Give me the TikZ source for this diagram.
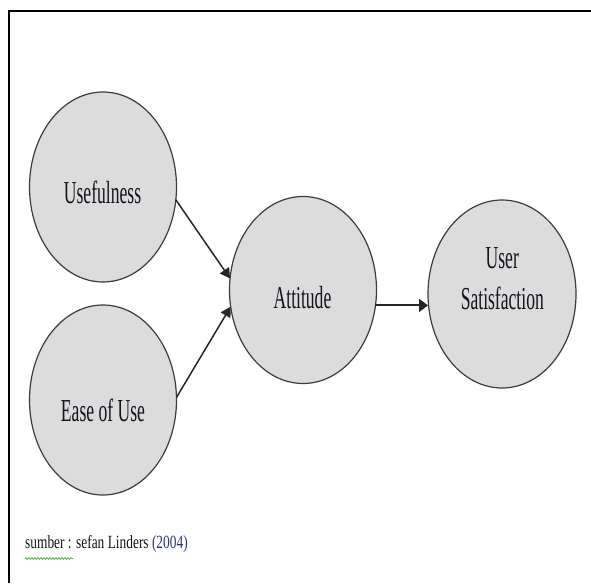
\documentclass[tikz,border=0pt]{standalone}
\usepackage{graphicx}
\usepackage{fontspec}
\newfontfamily\tnr{Liberation Serif}
\usetikzlibrary{shapes.geometric,arrows.meta,decorations.pathmorphing}
\definecolor{bubblefill}{RGB}{220,220,220}
\definecolor{bubbleline}{RGB}{60,60,60}
\definecolor{inkdark}{RGB}{20,20,30}
\definecolor{yearblue}{RGB}{40,50,120}
\definecolor{squiggle}{RGB}{90,170,80}
\tikzset{
  bubble/.style={ellipse, draw=bubbleline, line width=1.2pt, fill=bubblefill,
    inner sep=0pt, outer sep=0pt, minimum width=147pt},
  lbl/.style={anchor=base, inner sep=0pt, text=inkdark, font=\tnr\fontsize{32}{41}\selectfont},
  conn/.style={draw=black!85, line width=1.5pt, -{Triangle[length=10pt,width=11pt]}}
}
\newcommand{\narrow}[1]{\scalebox{0.55}[1]{#1}}
\begin{document}
\begin{tikzpicture}[x=1pt,y=-1pt]
\useasboundingbox (0,0) rectangle (591,583);
% frame
\draw[line width=1.6pt, black] (9,583) -- (9,11) -- (591,11);
% bubbles
\node[bubble, minimum height=190pt] (use) at (103,187) {};
\node[bubble, minimum height=190pt] (ease) at (103,400) {};
\node[bubble, minimum height=187pt] (att) at (303,290) {};
\node[bubble, minimum height=188pt, minimum width=148pt] (us) at (502,294) {};
% labels
\node[lbl] (tuse) at (102.5,203) {\narrow{Usefulness}};
\node[lbl] (tease) at (103,421.5) {\narrow{Ease of Use}};
\node[lbl] (tatt) at (302.5,308) {\narrow{Attitude}};
\node[lbl] (tus1) at (502.3,268) {\narrow{User}};
\node[lbl] (tus2) at (502.3,309) {\narrow{Satisfaction}};
% connectors
\draw[conn] (use.-10) -- (att.171);
\draw[conn] (ease.2.6) -- (att.-167.4);
\draw[conn, line width=2pt, -{Triangle[length=9pt,width=13pt]}] (att.-12.5) -- (att.-12.5 -| us.west);
% caption
\node[anchor=base west, inner sep=0pt, text=inkdark, font=\tnr\fontsize{18.6}{22}\selectfont] (cap) at (25,548)
  {\scalebox{0.72}[1]{sumber : sefan Linders \textcolor{yearblue}{(2004)}}};
\coordinate (sqa) at (25,558.5);
\coordinate (sqb) at (73,558.5);
\draw[squiggle, line width=0.8pt, decorate, decoration={snake, amplitude=0.9pt, segment length=3pt}] (sqa) -- (sqb);
\end{tikzpicture}
\end{document}
